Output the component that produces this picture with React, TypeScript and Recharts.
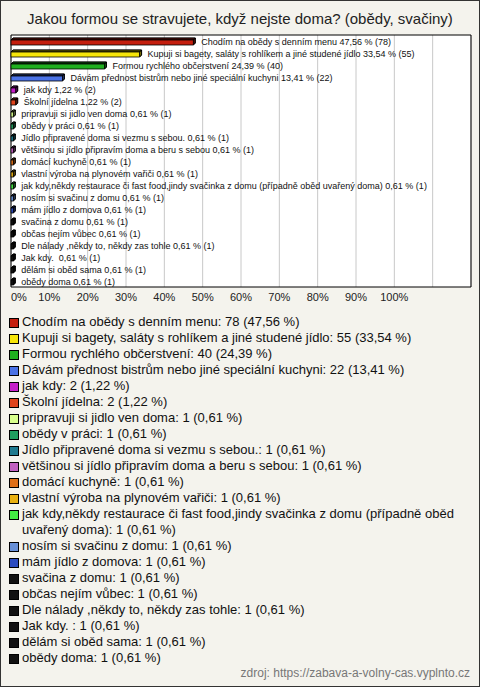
import { BarChart, Bar, XAxis, YAxis, CartesianGrid, ReferenceArea, LabelList } from 'recharts';

const answers = [
  'Chodím na obědy s denním menu',
  'Kupuji si bagety, saláty s rohlíkem a jiné studené jídlo',
  'Formou rychlého občerstvení',
  'Dávám přednost bistrům nebo jiné speciální kuchyni',
  'jak kdy',
  'Školní jídelna',
  'pripravuji si jidlo ven doma',
  'obědy v práci',
  'Jídlo připravené doma si vezmu s sebou.',
  'většinou si jídlo připravím doma a beru s sebou',
  'domácí kuchyně',
  'vlastní výroba na plynovém vařiči',
  'jak kdy,někdy restaurace či fast food,jindy svačinka z domu (případně oběd uvařený doma)',
  'nosím si svačinu z domu',
  'mám jídlo z domova',
  'svačina z domu',
  'občas nejím vůbec',
  'Dle nálady ,někdy to, někdy zas tohle',
  'Jak kdy. ',
  'dělám si oběd sama',
  'obědy doma',
];

const counts = [78, 55, 40, 22, 2, 2, 1, 1, 1, 1, 1, 1, 1, 1, 1, 1, 1, 1, 1, 1, 1];

const percents = [47.56, 33.54, 24.39, 13.41, 1.22, 1.22, 0.61, 0.61, 0.61, 0.61, 0.61, 0.61, 0.61, 0.61, 0.61, 0.61, 0.61, 0.61, 0.61, 0.61, 0.61];

const percentLabels = ['47,56', '33,54', '24,39', '13,41', '1,22', '1,22', '0,61', '0,61', '0,61', '0,61', '0,61', '0,61', '0,61', '0,61', '0,61', '0,61', '0,61', '0,61', '0,61', '0,61', '0,61'];

const colors = [
  '#c41e0e', '#f7e60a', '#1fb01f', '#4a72e6', '#c41ec8', '#e0441c', '#d8ff8c',
  '#20a060', '#1f7a8f', '#c060c0', '#e07018', '#e8b010', '#44ee44', '#6890d8',
  '#2c4cc0', '#111111', '#111111', '#111111', '#111111', '#111111', '#111111',
];

const xTicks = [0, 10, 20, 30, 40, 50, 60, 70, 80, 90, 100, 110];

const rows = answers.map((name, i) => ({
  name,
  pct: percents[i],
  color: colors[i],
  label: `${name} ${percentLabels[i]} % (${counts[i]})`,
}));

const FONT = '"Liberation Sans", Arial, sans-serif';

function Bar3D(props: any) {
  const { x, y, width, height, payload } = props;
  const d = 2;
  const c = payload.color;
  const top = `${x},${y + d} ${x + d},${y} ${x + width + d},${y} ${x + width},${y + d}`;
  const side = `${x + width},${y + d} ${x + width + d},${y} ${x + width + d},${y + height - d} ${x + width},${y + height}`;
  return (
    <g stroke="#000" strokeWidth={0.8}>
      <polygon points={top} fill={c} />
      <polygon points={top} fill="#000" fillOpacity={0.35} />
      <polygon points={side} fill={c} />
      <polygon points={side} fill="#000" fillOpacity={0.5} />
      <rect x={x} y={y + d} width={width} height={height - d} fill={c} />
    </g>
  );
}

function BarText(props: any) {
  const { x, y, width, height, value } = props;
  return (
    <text
      x={x + width + 8}
      y={y + height / 2}
      dy="0.35em"
      fontSize={9}
      fill="#111"
      fontFamily={FONT}
      style={{ whiteSpace: 'pre' }}
    >
      {value}
    </text>
  );
}

function XTick(props: any) {
  const { x, y, payload } = props;
  if (payload.value > 100) return null;
  return (
    <text
      x={x}
      y={y}
      dy="0.71em"
      textAnchor={payload.value === 0 ? 'start' : 'middle'}
      fontSize={11}
      fill="#222"
      fontFamily={FONT}
    >
      {`${payload.value}%`}
    </text>
  );
}

export default function App() {
  return (
    <div
      style={{
        position: 'fixed',
        top: 0,
        left: 0,
        width: 480,
        height: 687,
        boxSizing: 'border-box',
        border: '1px solid #333',
        background: '#f4f3ed',
        fontFamily: FONT,
        overflow: 'hidden',
      }}
    >
      <div
        style={{
          position: 'absolute',
          top: 8,
          left: 0,
          width: 478,
          textAlign: 'center',
          fontSize: 15,
          lineHeight: '20px',
          color: '#222',
        }}
      >
        Jakou formou se stravujete, když nejste doma? (obědy, svačiny)
      </div>

      <div style={{ position: 'absolute', top: -1, left: -1 }}>
        <BarChart
          width={480}
          height={310}
          data={rows}
          layout="vertical"
          margin={{ top: 35, right: 9, left: 11, bottom: 0 }}
          barSize={7}
        >
          <CartesianGrid horizontal={false} fill="#fff" stroke="#c8c8c8" />
          <XAxis
            type="number"
            dataKey="pct"
            domain={[0, 120]}
            ticks={xTicks}
            axisLine={false}
            tickLine={false}
            tickSize={0}
            tickMargin={6}
            height={23}
            interval={0}
            tick={<XTick />}
          />
          <YAxis type="category" dataKey="name" hide />
          <ReferenceArea x1={0} x2={120} fill="none" stroke="#000" strokeWidth={1} ifOverflow="visible" />
          <Bar dataKey="pct" isAnimationActive={false} shape={<Bar3D />}>
            <LabelList dataKey="label" content={<BarText />} />
          </Bar>
        </BarChart>
      </div>

      <div
        style={{
          position: 'absolute',
          top: 313,
          left: 8,
          width: 466,
          fontSize: 13,
          lineHeight: '16px',
          color: '#111',
        }}
      >
        {rows.map((r, i) => (
          <div key={i} style={{ display: 'flex', alignItems: 'flex-start' }}>
            <span
              style={{
                display: 'inline-block',
                flex: '0 0 auto',
                width: 8,
                height: 8,
                marginTop: 4,
                marginRight: 3,
                background: r.color,
                border: '1px solid #000',
              }}
            />
            <span style={{ whiteSpace: 'pre-wrap' }}>
              {`${r.name}: ${counts[i]} (${percentLabels[i]} %)`}
            </span>
          </div>
        ))}
      </div>

      <div
        style={{
          position: 'absolute',
          top: 664,
          right: 9,
          fontSize: 12,
          lineHeight: '16px',
          color: '#777',
        }}
      >
        zdroj: https://zabava-a-volny-cas.vyplnto.cz
      </div>
    </div>
  );
}
